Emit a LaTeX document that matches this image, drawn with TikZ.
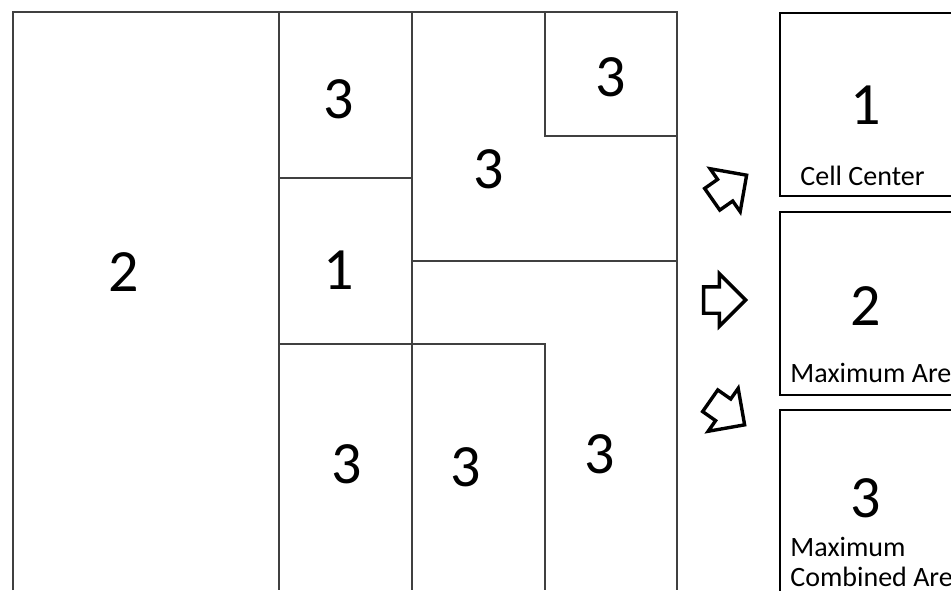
\documentclass[tikz,border=0pt]{standalone}
\usepackage{fontspec}
\setmainfont{Carlito}
\usetikzlibrary{shapes.arrows}

\begin{document}
\begin{tikzpicture}[x=0.5pt, y=-0.5pt,
    grid/.style={draw=black!75, line width=0.7pt},
    num/.style={font=\fontsize{30}{32}\selectfont},
    panel/.style={draw, line width=1pt, minimum width=100pt, minimum height=91.5pt, anchor=north west},
    tag/.style={font=\fontsize{14}{16}\selectfont, anchor=base west, inner sep=0pt},
    blk/.style={single arrow, draw, line width=1.7pt, minimum height=21pt, inner sep=5.75pt, single arrow head extend=6.5pt}
]
\useasboundingbox (0,0) rectangle (951,590);
\clip (0,0) rectangle (951,590);

% cell grid
\draw[grid] (13,590) -- (13,12) -- (677,12) -- (677,590);
\draw[grid] (279,12) -- (279,590);
\draw[grid] (412,12) -- (412,590);
\draw[grid] (545,12) -- (545,136) -- (677,136);
\draw[grid] (279,178) -- (412,178);
\draw[grid] (412,261) -- (677,261);
\draw[grid] (279,344) -- (545,344) -- (545,590);

% cell values
\node[num] (cA) at (124,272) {2};
\node[num] (cB) at (339,99) {3};
\node[num] (cC) at (339,270) {1};
\node[num] (cD) at (611,77) {3};
\node[num] (cE) at (489,169) {3};
\node[num] (cF) at (347,464) {3};
\node[num] (cG) at (466,467) {3};
\node[num] (cH) at (600,454) {3};

% arrows
\node[blk, rotate=35] (a1) at (724,191) {};
\node[blk] (a2) at (718,300) {};
\node[blk, rotate=-35] (a3) at (722,409) {};

% rule panels
\node[panel] (p1) at (779,12) {};
\node[panel] (p2) at (779,211) {};
\node[panel, minimum height=110pt] (p3) at (779,409) {};
\node[num] (v1) at (866,105) {1};
\node[num] (v2) at (866,306) {2};
\node[num] (v3) at (866,498) {3};
\node[tag] (t1) at (800,185) {Cell Center};
\node[tag] (t2) at (790,382) {Maximum Area};
\node[tag] (t3) at (790,556) {Maximum};
\node[tag] (t4) at (790,586) {Combined Area};
\end{tikzpicture}
\end{document}
